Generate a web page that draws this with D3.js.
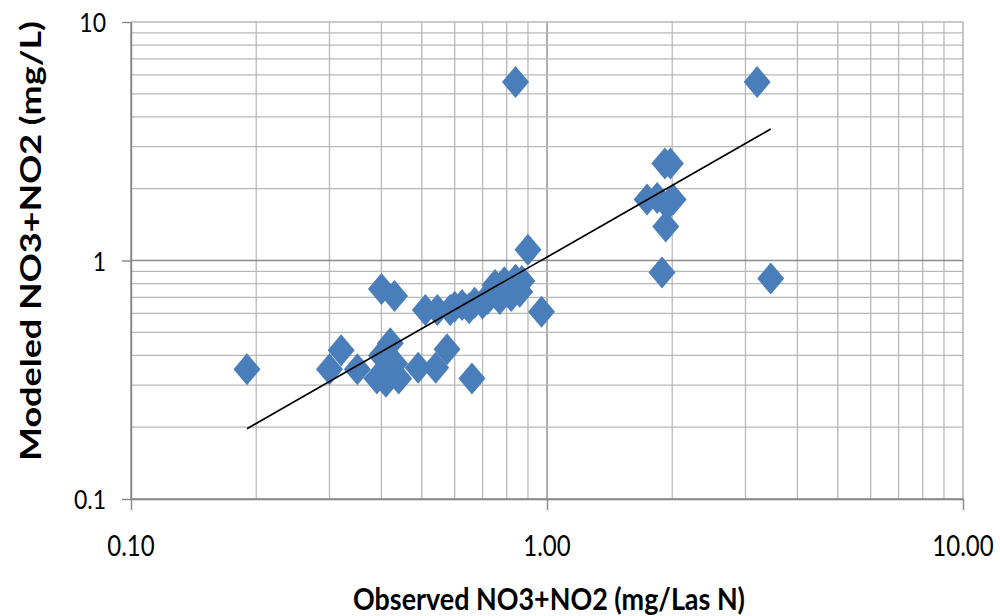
<!DOCTYPE html>
<html>
<head>
<meta charset="utf-8">
<script src="https://cdn.jsdelivr.net/npm/d3@7"></script>
<style>
  html, body { margin: 0; padding: 0; background: #fff; }
  svg { display: block; }
  text { font-family: Lato, "Open Sans", "Liberation Sans", sans-serif; fill: #000; }
</style>
</head>
<body>
<svg id="chart" width="1000" height="616"></svg>
<script>
// Observed vs. modeled NO3+NO2 concentrations (mg/L), one entry per sample
const observed = [
  0.19, 0.30, 0.32, 0.35, 0.40, 0.43, 0.42, 0.40, 0.39, 0.415, 0.44, 0.41, 0.43,
  0.49, 0.54, 0.575, 0.66,
  0.51, 0.545, 0.585, 0.60, 0.625, 0.65, 0.67, 0.70, 0.72, 0.73, 0.75, 0.76, 0.77,
  0.79, 0.79, 0.81, 0.82, 0.84, 0.86, 0.87,
  0.90, 0.97, 0.84,
  1.74, 1.84, 2.01, 1.95, 1.92, 1.98, 1.93, 1.89, 3.45, 3.20
];
const modeled = [
  0.35, 0.35, 0.42, 0.35, 0.76, 0.71, 0.45, 0.40, 0.32, 0.34, 0.32, 0.31, 0.37,
  0.355, 0.355, 0.425, 0.32,
  0.62, 0.62, 0.62, 0.64, 0.65, 0.63, 0.665, 0.66, 0.69, 0.72, 0.79, 0.74, 0.69,
  0.81, 0.74, 0.77, 0.71, 0.83, 0.74, 0.82,
  1.11, 0.61, 5.6,
  1.80, 1.83, 1.80, 1.71, 2.55, 2.55, 1.39, 0.89, 0.84, 5.6
];

// Axis ticks and their printed labels
const xTickValues = [0.1, 1, 10];
const xTickLabels = ["0.10", "1.00", "10.00"];
const yTickValues = [0.1, 1, 10];
const yTickLabels = ["0.1", "1", "10"];

// Power trendline  modeled = a * observed^b
const trendA = 1.034;
const trendB = 0.998;

const xTitle = "Observed NO3+NO2 (mg/Las N)";
const yTitle = "Modeled NO3+NO2 (mg/L)";

const points = observed.map((o, i) => ({ obs: o, mod: modeled[i] }));

const svg = d3.select("#chart");
const plot = { left: 131, right: 963, top: 22, bottom: 499 };

const x = d3.scaleLog().domain([0.1, 10]).range([plot.left, plot.right]);
const y = d3.scaleLog().domain([0.1, 10]).range([plot.bottom, plot.top]);

const isMajor = v => Math.abs(Math.log10(v) - Math.round(Math.log10(v))) < 1e-9;

// Gridlines: every 1..9 step of each decade, decades drawn darker
const grid = svg.append("g").attr("class", "grid");
grid.selectAll("line.gx")
  .data(x.ticks())
  .join("line")
  .attr("class", "gx")
  .attr("x1", d => x(d)).attr("x2", d => x(d))
  .attr("y1", plot.top).attr("y2", plot.bottom)
  .attr("stroke", d => (isMajor(d) && d !== 10) ? "#9a9a9a" : "#b8b8b8")
  .attr("stroke-width", d => isMajor(d) ? 1.6 : 1.3);

grid.selectAll("line.gy")
  .data(y.ticks())
  .join("line")
  .attr("class", "gy")
  .attr("y1", d => y(d)).attr("y2", d => y(d))
  .attr("x1", plot.left).attr("x2", plot.right)
  .attr("stroke", d => isMajor(d) && d !== 10 ? "#8a8a8a" : "#b8b8b8")
  .attr("stroke-width", d => isMajor(d) ? 1.6 : 1.3);

// Axes (lines and tick marks only; labels drawn below)
const xAxis = svg.append("g")
  .attr("transform", `translate(0,${plot.bottom})`)
  .call(d3.axisBottom(x).tickValues(xTickValues).tickSize(11).tickSizeOuter(0).tickFormat(""));
const yAxis = svg.append("g")
  .attr("transform", `translate(${plot.left},0)`)
  .call(d3.axisLeft(y).tickValues(yTickValues).tickSize(9).tickSizeOuter(0).tickFormat(""));
[xAxis, yAxis].forEach(g => {
  g.selectAll("path.domain").attr("stroke", "#868686").attr("stroke-width", 1.4);
  g.selectAll(".tick line").attr("stroke", "#868686").attr("stroke-width", 1.4);
});

// Tick labels
svg.append("g").selectAll("text")
  .data(xTickValues)
  .join("text")
  .attr("transform", d => `translate(${x(d)},556) scale(1,1.2)`)
  .attr("text-anchor", "middle")
  .attr("font-size", 24)
  .text((d, i) => xTickLabels[i]);

svg.append("g").selectAll("text")
  .data(yTickValues)
  .join("text")
  .attr("transform", d => `translate(106,${y(d) + 10}) scale(1,1.2)`)
  .attr("text-anchor", "end")
  .attr("font-size", 23)
  .text((d, i) => yTickLabels[i]);

// Data markers: diamonds
const hw = 13.5, hh = 16;
svg.append("g").selectAll("path")
  .data(points)
  .join("path")
  .attr("d", d => {
    const cx = x(d.obs), cy = y(d.mod);
    return `M${cx},${cy - hh}L${cx + hw},${cy}L${cx},${cy + hh}L${cx - hw},${cy}Z`;
  })
  .attr("fill", "#4a7ebb");

// Trendline across the observed range
const [xmin, xmax] = d3.extent(observed);
const trendPts = d3.range(0, 41).map(i => {
  const xv = Math.pow(10, Math.log10(xmin) + (Math.log10(xmax) - Math.log10(xmin)) * i / 40);
  return [xv, trendA * Math.pow(xv, trendB)];
});
svg.append("path")
  .datum(trendPts)
  .attr("fill", "none")
  .attr("stroke", "#000")
  .attr("stroke-width", 1.7)
  .attr("d", d3.line().x(d => x(d[0])).y(d => y(d[1])));

// Axis titles
svg.append("text")
  .attr("transform", "translate(549,610) scale(1,1.2)")
  .attr("text-anchor", "middle")
  .attr("font-size", 26)
  .attr("font-weight", "bold")
  .attr("textLength", 392)
  .attr("lengthAdjust", "spacingAndGlyphs")
  .text(xTitle);

svg.append("text")
  .attr("transform", "translate(41,241) rotate(-90)")
  .attr("text-anchor", "middle")
  .attr("font-size", 29)
  .attr("font-weight", "bold")
  .attr("textLength", 440)
  .attr("lengthAdjust", "spacingAndGlyphs")
  .text(yTitle);
</script>
</body>
</html>
